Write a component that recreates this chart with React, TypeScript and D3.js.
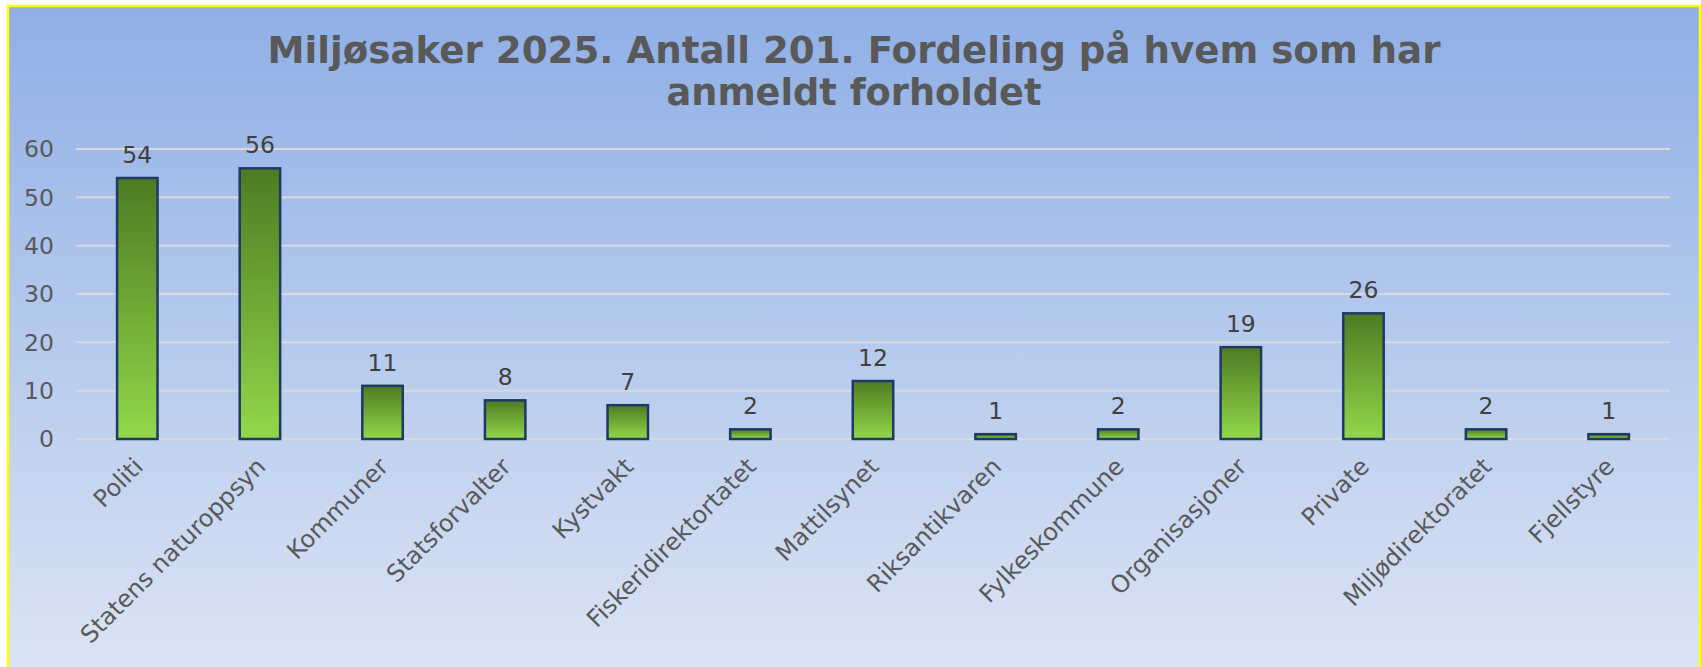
import React from "react";
import * as d3 from "d3";

const categories = [
  "Politi",
  "Statens naturoppsyn",
  "Kommuner",
  "Statsforvalter",
  "Kystvakt",
  "Fiskeridirektortatet",
  "Mattilsynet",
  "Riksantikvaren",
  "Fylkeskommune",
  "Organisasjoner",
  "Private",
  "Miljødirektoratet",
  "Fjellstyre",
];
const values = [54, 56, 11, 8, 7, 2, 12, 1, 2, 19, 26, 2, 1];
const yTicks = [0, 10, 20, 30, 40, 50, 60];
const titleLines = [
  "Miljøsaker 2025. Antall 201. Fordeling på hvem som har",
  "anmeldt forholdet",
];

const W = 1701;
const H = 667;
const FONT = "Verdana, 'DejaVu Sans', sans-serif";

export default function App() {
  const x = d3
    .scaleBand<string>()
    .domain(categories)
    .range([76, 1670])
    .paddingInner(0.67)
    .paddingOuter(0.335);
  const y = d3.scaleLinear().domain([0, 60]).range([439, 149]);

  return (
    <svg
      width={W}
      height={H}
      style={{ position: "absolute", left: 0, top: 0 }}
      xmlns="http://www.w3.org/2000/svg"
    >
      <defs>
        <linearGradient id="bg" x1="0" y1="0" x2="0" y2="1">
          <stop offset="0%" stopColor="#8fafe6" />
          <stop offset="100%" stopColor="#e0e7f5" />
        </linearGradient>
        <linearGradient id="bar" x1="0" y1="0" x2="0" y2="1">
          <stop offset="0%" stopColor="#4e7b22" />
          <stop offset="100%" stopColor="#92d84a" />
        </linearGradient>
      </defs>
      <rect x={0} y={0} width={W} height={H} fill="#ffffff" />
      <rect
        x={8}
        y={6}
        width={1692}
        height={700}
        fill="url(#bg)"
        stroke="#ffff00"
        strokeWidth={2.5}
      />
      {/* title */}
      <text
        x={854}
        y={63}
        textAnchor="middle"
        fontFamily={FONT}
        fontWeight="bold"
        fontSize={38}
        fill="#595959"
        textLength={1173}
        lengthAdjust="spacingAndGlyphs"
      >
        {titleLines[0]}
      </text>
      <text
        x={854}
        y={105}
        textAnchor="middle"
        fontFamily={FONT}
        fontWeight="bold"
        fontSize={38}
        fill="#595959"
        textLength={375}
        lengthAdjust="spacingAndGlyphs"
      >
        {titleLines[1]}
      </text>
      {/* gridlines */}
      {yTicks.map((t) => (
        <line
          key={"g" + t}
          x1={76}
          x2={1670}
          y1={y(t)}
          y2={y(t)}
          stroke="#d9d9d9"
          strokeWidth={2}
        />
      ))}
      {yTicks.map((t) => (
        <text
          key={"t" + t}
          x={54}
          y={y(t)}
          dy="0.36em"
          textAnchor="end"
          fontFamily={FONT}
          fontSize={23.5}
          fill="#595959"
        >
          {t}
        </text>
      ))}
      {/* bars */}
      {categories.map((c, i) => (
        <rect
          key={"b" + c}
          x={x(c)}
          y={y(values[i])}
          width={x.bandwidth()}
          height={y(0) - y(values[i])}
          fill="url(#bar)"
          stroke="#1f3864"
          strokeWidth={2.5}
        />
      ))}
      {categories.map((c, i) => (
        <text
          key={"v" + c}
          x={(x(c) as number) + x.bandwidth() / 2}
          y={y(values[i]) - 15}
          textAnchor="middle"
          fontFamily={FONT}
          fontSize={23.5}
          fill="#404040"
        >
          {values[i]}
        </text>
      ))}
      {categories.map((c) => {
        const cx = (x(c) as number) + x.bandwidth() / 2 + 1;
        const cy = 462;
        return (
          <text
            key={"c" + c}
            transform={`translate(${cx},${cy}) rotate(-45)`}
            dy="0.36em"
            textAnchor="end"
            fontFamily={FONT}
            fontSize={24}
            fill="#595959"
          >
            {c}
          </text>
        );
      })}
    </svg>
  );
}
